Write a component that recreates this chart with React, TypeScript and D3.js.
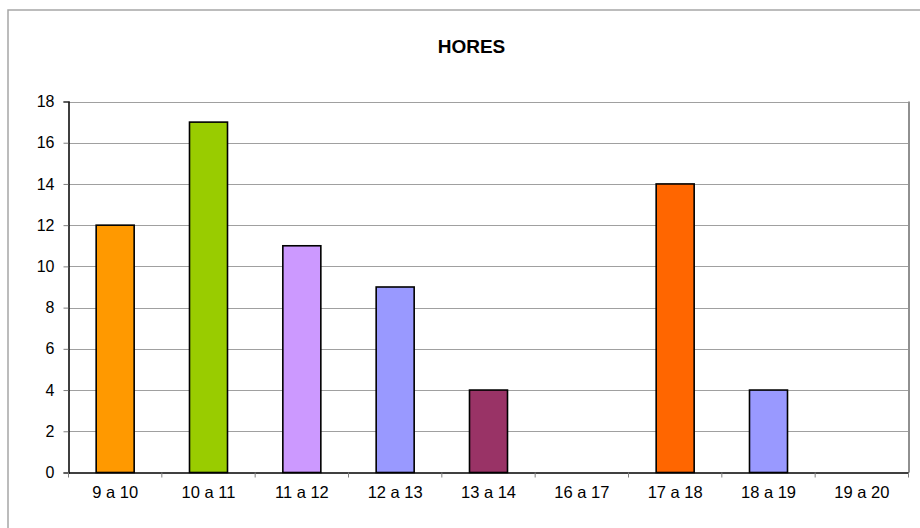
import * as d3 from 'd3';
import { useEffect, useRef } from 'react';

const categories = ['9 a 10', '10 a 11', '11 a 12', '12 a 13', '13 a 14', '16 a 17', '17 a 18', '18 a 19', '19 a 20'];
const values = [12, 17, 11, 9, 4, 0, 14, 4, 0];
const barColors = ['#FF9900', '#99CC00', '#CC99FF', '#9999FF', '#993366', '#9999FF', '#FF6600', '#9999FF', '#9999FF'];
const yTicks = [0, 2, 4, 6, 8, 10, 12, 14, 16, 18];

export default function App() {
  const ref = useRef<SVGSVGElement | null>(null);

  useEffect(() => {
    if (!ref.current) return;
    const svg = d3.select(ref.current);
    svg.selectAll('*').remove();

    const width = 920;
    const height = 528;
    const plot = { left: 68.5, top: 101.5, right: 908.5, bottom: 472.5 };
    const font = '"Liberation Sans", Arial, sans-serif';

    svg.attr('width', width).attr('height', height).attr('viewBox', `0 0 ${width} ${height}`);

    // outer chart border
    svg.append('rect')
      .attr('x', 8).attr('y', 10)
      .attr('width', 930).attr('height', 540)
      .attr('fill', '#fff')
      .attr('stroke', '#a6a6a6').attr('stroke-width', 1.5);

    const x = d3.scaleBand<string>()
      .domain(categories)
      .range([plot.left, plot.right])
      .paddingInner(0)
      .paddingOuter(0);
    const y = d3.scaleLinear().domain([0, 18]).range([plot.bottom, plot.top]);

    // gridlines
    svg.append('g')
      .selectAll('line')
      .data(yTicks.filter((t) => t > 0))
      .enter()
      .append('line')
      .attr('x1', plot.left).attr('x2', plot.right)
      .attr('y1', (d) => Math.round(y(d)) + 0.5).attr('y2', (d) => Math.round(y(d)) + 0.5)
      .attr('stroke', '#a0a0a0').attr('stroke-width', 1);

    // plot frame (right)
    svg.append('line')
      .attr('x1', plot.right + 0.5).attr('x2', plot.right + 0.5)
      .attr('y1', plot.top).attr('y2', plot.bottom)
      .attr('stroke', '#909090').attr('stroke-width', 2);

    // title
    svg.append('text')
      .attr('x', 471.5).attr('y', 53)
      .attr('text-anchor', 'middle')
      .style('font-family', font).style('font-weight', 'bold').style('font-size', '19px')
      .text('HORES');

    // bars
    const bw = 38;
    svg.append('g')
      .selectAll('rect')
      .data(values.map((v, i) => ({ v, i })))
      .enter()
      .filter((d) => d.v > 0)
      .append('rect')
      .attr('x', (d) => (x(categories[d.i]) || 0) + x.bandwidth() / 2 - bw / 2)
      .attr('y', (d) => y(d.v))
      .attr('width', bw)
      .attr('height', (d) => y(0) - y(d.v))
      .attr('fill', (d) => barColors[d.i])
      .attr('stroke', '#000').attr('stroke-width', 1.6);

    // y axis
    const yAxis = svg.append('g')
      .attr('transform', `translate(${plot.left},0)`)
      .call(d3.axisLeft(y).tickValues(yTicks).tickSize(5).tickPadding(9));
    yAxis.select('.domain').attr('stroke', '#000').attr('stroke-width', 1.5);
    yAxis.selectAll('.tick line').attr('stroke', '#7f7f7f');
    yAxis.selectAll('text')
      .style('font-family', font).style('font-size', '16px').attr('fill', '#000');

    // x axis
    const xAxis = svg.append('g')
      .attr('transform', `translate(0,${plot.bottom})`)
      .call(d3.axisBottom(x).tickSize(0).tickPadding(14));
    xAxis.select('.domain').attr('stroke', '#000').attr('stroke-width', 1.5);
    xAxis.selectAll('text')
      .style('font-family', font).style('font-size', '16.5px').attr('fill', '#000');

    // x tick marks at category boundaries
    svg.append('g')
      .selectAll('line')
      .data(categories.concat(['end']))
      .enter()
      .append('line')
      .attr('x1', (d, i) => i < categories.length ? (x(d) || 0) : plot.right)
      .attr('x2', (d, i) => i < categories.length ? (x(d) || 0) : plot.right)
      .attr('y1', plot.bottom).attr('y2', plot.bottom + 5)
      .attr('stroke', '#7f7f7f');
  }, []);

  return <svg ref={ref} style={{ position: 'absolute', left: 0, top: 0 }} />;
}
